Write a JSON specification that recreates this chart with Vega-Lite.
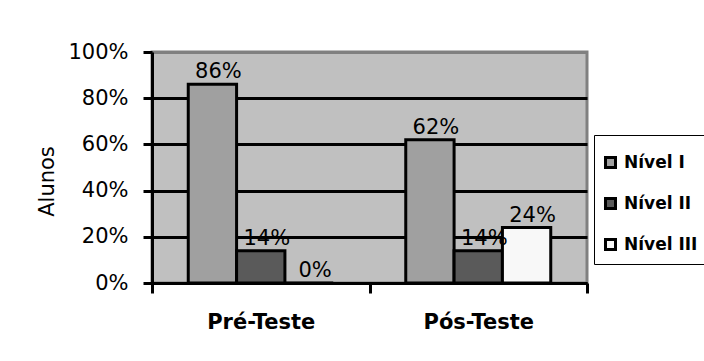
{
  "$schema": "https://vega.github.io/schema/vega-lite/v6.json",
  "width": 435,
  "height": 231,
  "autosize": {"type": "none"},
  "padding": {"left": 152, "top": 52, "right": 117, "bottom": 78},
  "background": "white",
  "config": {
    "font": "DejaVu Sans",
    "view": {"fill": "#c0c0c0", "stroke": "#808080", "strokeWidth": 3}
  },
  "data": {
    "values": [
      {"teste": "Pré-Teste", "nivel": "Nível I", "valor": 0.86},
      {"teste": "Pré-Teste", "nivel": "Nível II", "valor": 0.14},
      {"teste": "Pré-Teste", "nivel": "Nível III", "valor": 0.0},
      {"teste": "Pós-Teste", "nivel": "Nível I", "valor": 0.62},
      {"teste": "Pós-Teste", "nivel": "Nível II", "valor": 0.14},
      {"teste": "Pós-Teste", "nivel": "Nível III", "valor": 0.24}
    ]
  },
  "encoding": {
    "x": {
      "field": "teste", "type": "nominal", "sort": ["Pré-Teste", "Pós-Teste"],
      "scale": {"paddingInner": 0, "paddingOuter": 0},
      "axis": {
        "title": null, "labelAngle": 0, "labelFont": "DejaVu Sans", "labelFontSize": 21,
        "labelFontWeight": "bold", "labelColor": "black", "labelPadding": 18,
        "domainColor": "black", "domainWidth": 3, "tickColor": "black", "tickWidth": 3,
        "tickSize": 10, "tickBand": "extent", "grid": false
      }
    },
    "xOffset": {
      "field": "nivel", "type": "nominal", "sort": ["Nível I", "Nível II", "Nível III"],
      "scale": {"paddingInner": 0, "paddingOuter": 0.75}
    },
    "y": {
      "field": "valor", "type": "quantitative",
      "scale": {"domain": [0, 1]},
      "axis": {
        "title": "Alunos", "titleFont": "DejaVu Sans", "titleFontSize": 21, "titleFontWeight": "normal",
        "titleColor": "black", "titlePadding": 10, "titleY": 129,
        "values": [0, 0.2, 0.4, 0.6, 0.8, 1], "format": ".0%",
        "labelFont": "DejaVu Sans", "labelFontSize": 21, "labelColor": "black", "labelPadding": 15,
        "domainColor": "black", "domainWidth": 3, "tickColor": "black", "tickWidth": 3, "tickSize": 9,
        "grid": true, "gridWidth": 3,
        "gridColor": {"condition": {"test": "datum.value >= 1", "value": "#808080"}, "value": "black"}
      }
    }
  },
  "layer": [
    {
      "mark": {"type": "bar", "stroke": "black", "strokeWidth": 3},
      "encoding": {
        "color": {
          "field": "nivel", "type": "nominal", "sort": ["Nível I", "Nível II", "Nível III"],
          "scale": {"domain": ["Nível I", "Nível II", "Nível III"], "range": ["#a0a0a0", "#5a5a5a", "#f8f8f8"]},
          "legend": {
            "title": " ", "titleFontSize": 10, "titlePadding": 1,
            "orient": "none", "legendX": 442, "legendY": 83,
            "symbolType": "square", "symbolSize": 100, "symbolStrokeColor": "black", "symbolStrokeWidth": 3,
            "labelFont": "DejaVu Sans", "labelFontSize": 17, "labelFontWeight": "bold", "labelColor": "black",
            "labelOffset": 5, "rowPadding": 18, "padding": 8, "labelLimit": 200,
            "fillColor": "white", "strokeColor": "black"
          }
        }
      }
    },
    {
      "mark": {"type": "text", "baseline": "alphabetic", "dy": -6, "dx": 6, "fontSize": 21, "font": "DejaVu Sans", "color": "black"},
      "encoding": {
        "text": {"field": "valor", "type": "quantitative", "format": ".0%"}
      }
    }
  ]
}
